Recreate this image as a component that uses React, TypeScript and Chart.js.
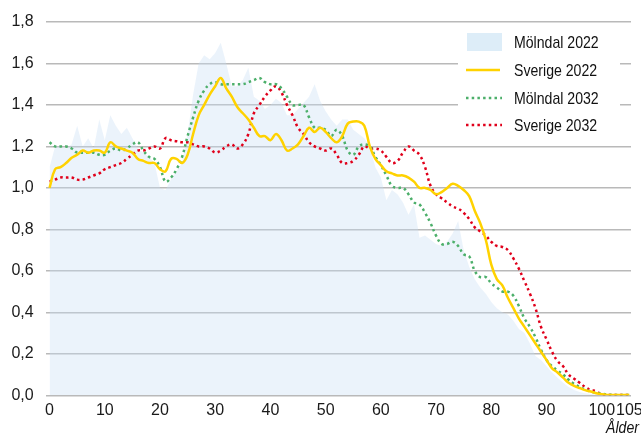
import React, { useEffect, useRef } from 'react';
import { Chart, registerables } from 'chart.js';

Chart.register(...registerables);

const ages = [
  0, 1, 2, 3, 4, 5, 6, 7, 8, 9, 10, 11, 12, 13, 14, 15, 16, 17, 18, 19,
  20, 21, 22, 23, 24, 25, 26, 27, 28, 29, 30, 31, 32, 33, 34, 35, 36, 37, 38, 39,
  40, 41, 42, 43, 44, 45, 46, 47, 48, 49, 50, 51, 52, 53, 54, 55, 56, 57, 58, 59,
  60, 61, 62, 63, 64, 65, 66, 67, 68, 69, 70, 71, 72, 73, 74, 75, 76, 77, 78, 79,
  80, 81, 82, 83, 84, 85, 86, 87, 88, 89, 90, 91, 92, 93, 94, 95, 96, 97, 98, 99,
  100, 101, 102, 103, 104, 105,
];

const molndal2022 = [
  1.10, 1.20, 1.20, 1.19, 1.21, 1.30, 1.20, 1.24, 1.19, 1.33,
  1.23, 1.35, 1.30, 1.26, 1.29, 1.24, 1.19, 1.17, 1.15, 1.12,
  1.00, 0.99, 1.04, 1.08, 1.12, 1.26, 1.45, 1.60, 1.64, 1.62,
  1.65, 1.70, 1.60, 1.49, 1.49, 1.52, 1.58, 1.44, 1.42, 1.38,
  1.40, 1.43, 1.41, 1.35, 1.35, 1.38, 1.41, 1.44, 1.50, 1.42,
  1.37, 1.33, 1.30, 1.33, 1.33, 1.28, 1.26, 1.24, 1.20, 1.10,
  1.05, 0.94, 0.99, 0.97, 0.93, 0.87, 0.92, 0.76, 0.77, 0.75,
  0.73, 0.72, 0.74, 0.78, 0.84, 0.70, 0.62, 0.56, 0.52, 0.49,
  0.45, 0.42, 0.40, 0.39, 0.36, 0.32, 0.30, 0.25, 0.19, 0.17,
  0.14, 0.11, 0.085, 0.06, 0.04, 0.025, 0.016, 0.01, 0.006, 0.004,
  0.003, 0.002, 0.001, 0.001, 0.001, 0.001,
];

const sverige2022 = [
  1.00, 1.09, 1.10, 1.12, 1.145, 1.16, 1.18, 1.17, 1.18, 1.18,
  1.17, 1.22, 1.20, 1.19, 1.18, 1.17, 1.14, 1.13, 1.12, 1.12,
  1.09, 1.08, 1.14, 1.14, 1.12, 1.16, 1.26, 1.35, 1.40, 1.45,
  1.49, 1.53, 1.48, 1.44, 1.39, 1.36, 1.33, 1.29, 1.25, 1.25,
  1.23, 1.26, 1.23, 1.18, 1.19, 1.21, 1.25, 1.29, 1.27, 1.29,
  1.27, 1.24, 1.22, 1.25, 1.31, 1.32, 1.32, 1.30, 1.20, 1.14,
  1.11, 1.08, 1.07, 1.06, 1.06, 1.05, 1.03, 1.00, 1.00, 0.99,
  0.97, 0.98, 1.00, 1.02, 1.01, 0.99, 0.96, 0.89, 0.83, 0.75,
  0.63, 0.56, 0.53, 0.47, 0.42, 0.37, 0.33, 0.29, 0.25, 0.21,
  0.17, 0.13, 0.11, 0.085, 0.06, 0.045, 0.035, 0.025, 0.018, 0.01,
  0.005, 0.002, 0.001, 0.001, 0.001, 0.001,
];

const molndal2032 = [
  1.22, 1.20, 1.20, 1.20, 1.19, 1.17, 1.17, 1.17, 1.17, 1.16,
  1.16, 1.18, 1.19, 1.18, 1.19, 1.21, 1.22, 1.18, 1.15, 1.14,
  1.10, 1.03, 1.05, 1.09, 1.15, 1.25, 1.34, 1.42, 1.47, 1.50,
  1.51, 1.50, 1.50, 1.50, 1.50, 1.50, 1.51, 1.52, 1.53, 1.51,
  1.50, 1.50, 1.48, 1.44, 1.40, 1.40, 1.40, 1.34, 1.29, 1.29,
  1.28, 1.25, 1.28, 1.25, 1.18, 1.16, 1.20, 1.21, 1.20, 1.15,
  1.11, 1.06, 1.01, 1.00, 1.00, 0.97, 0.93, 0.92, 0.88, 0.83,
  0.77, 0.73, 0.73, 0.74, 0.72, 0.68, 0.67, 0.60, 0.57, 0.57,
  0.54, 0.52, 0.50, 0.50, 0.48, 0.43, 0.37, 0.33, 0.28, 0.22,
  0.17, 0.14, 0.12, 0.10, 0.075, 0.055, 0.04, 0.028, 0.018, 0.012,
  0.008, 0.004, 0.002, 0.002, 0.002, 0.002,
];

const sverige2032 = [
  1.03, 1.04, 1.05, 1.05, 1.05, 1.04, 1.04, 1.05, 1.06, 1.07,
  1.09, 1.10, 1.11, 1.12, 1.14, 1.16, 1.18, 1.18, 1.19, 1.20,
  1.19, 1.24, 1.23, 1.225, 1.22, 1.22, 1.21, 1.20, 1.20, 1.19,
  1.17, 1.18, 1.20, 1.21, 1.19, 1.21, 1.26, 1.36, 1.40, 1.44,
  1.47, 1.49, 1.46, 1.40, 1.35, 1.29, 1.26, 1.22, 1.20, 1.19,
  1.18, 1.19, 1.16, 1.12, 1.12, 1.13, 1.16, 1.20, 1.19, 1.19,
  1.18, 1.15, 1.12, 1.13, 1.17, 1.20, 1.18, 1.16, 1.10, 1.01,
  0.97, 0.95, 0.93, 0.91, 0.90, 0.88, 0.85, 0.81, 0.79, 0.77,
  0.74, 0.72, 0.715, 0.70, 0.66, 0.61, 0.55, 0.49, 0.42, 0.33,
  0.27, 0.21, 0.165, 0.14, 0.10, 0.08, 0.06, 0.04, 0.025, 0.02,
  0.003, 0.002, 0.002, 0.002, 0.002, 0.002,
];

const xTickValues = [0, 10, 20, 30, 40, 50, 60, 70, 80, 90, 100, 105];
const seriesNames = ['Mölndal 2022', 'Sverige 2022', 'Mölndal 2032', 'Sverige 2032'];
const xTitle = 'Ålder';

const FONT = "'Liberation Sans', Arial, sans-serif";
const NARROW = 0.83;
const AREA = 'rgba(200,222,244,0.36)';
const AREA_SWATCH = '#ddedf8';
const YELLOW = '#ffd200';
const GREEN = '#4caf6a';
const RED = '#e0001b';

const toXY = (vals: number[]) => ages.map((a, i) => ({ x: a, y: vals[i] }));

const narrowText = (ctx: CanvasRenderingContext2D, t: string, x: number, y: number) => {
  ctx.save();
  ctx.translate(x, y);
  ctx.scale(NARROW, 1);
  ctx.fillText(t, 0, 0);
  ctx.restore();
};

const legendPlugin = {
  id: 'customLegend',
  afterDraw(chart: any) {
    const ctx = chart.ctx as CanvasRenderingContext2D;
    ctx.save();
    ctx.fillStyle = '#ffffff';
    ctx.fillRect(458, 27, 162, 113);
    const rows = [42, 70, 98, 125];
    const textX = 514;
    ctx.font = `17px ${FONT}`;
    ctx.textBaseline = 'middle';
    ctx.textAlign = 'left';
    ctx.fillStyle = AREA_SWATCH;
    ctx.fillRect(467, rows[0] - 9, 35, 18);
    ctx.strokeStyle = YELLOW;
    ctx.lineWidth = 2.5;
    ctx.beginPath();
    ctx.moveTo(466, rows[1]);
    ctx.lineTo(500, rows[1]);
    ctx.stroke();
    [[GREEN, rows[2]], [RED, rows[3]]].forEach(([c, y]) => {
      ctx.strokeStyle = c as string;
      ctx.lineWidth = 2.5;
      ctx.setLineDash([2.5, 3.2]);
      ctx.beginPath();
      ctx.moveTo(466, y as number);
      ctx.lineTo(502, y as number);
      ctx.stroke();
    });
    ctx.setLineDash([]);
    ctx.fillStyle = '#111111';
    seriesNames.forEach((n, i) => narrowText(ctx, n, textX, rows[i] + 1));
    ctx.font = `italic 17px ${FONT}`;
    ctx.textBaseline = 'alphabetic';
    narrowText(ctx, xTitle, 606, 433);
    ctx.restore();
  },
};

export default function App() {
  const ref = useRef<HTMLCanvasElement | null>(null);
  useEffect(() => {
    if (!ref.current) return;
    Chart.defaults.font.family = FONT;
    const chart = new Chart(ref.current, {
      type: 'line',
      data: {
        datasets: [
          {
            label: seriesNames[1],
            data: toXY(sverige2022),
            borderColor: YELLOW,
            borderWidth: 2.5,
            pointRadius: 0,
            tension: 0.4,
            fill: false,
            order: 1,
          },
          {
            label: seriesNames[2],
            data: toXY(molndal2032),
            borderColor: GREEN,
            borderWidth: 2.5,
            borderDash: [2.5, 3.2],
            pointRadius: 0,
            tension: 0.4,
            fill: false,
            order: 2,
          },
          {
            label: seriesNames[3],
            data: toXY(sverige2032),
            borderColor: RED,
            borderWidth: 2.5,
            borderDash: [2.5, 3.2],
            pointRadius: 0,
            tension: 0.4,
            fill: false,
            order: 3,
          },
          {
            label: seriesNames[0],
            data: toXY(molndal2022),
            borderWidth: 0,
            borderColor: 'rgba(0,0,0,0)',
            backgroundColor: AREA,
            pointRadius: 0,
            tension: 0,
            fill: 'origin',
            order: 10,
          },
        ],
      },
      options: {
        animation: false,
        responsive: false,
        devicePixelRatio: 1,
        layout: { padding: { left: 0, top: 22, right: 10, bottom: 0 } },
        plugins: { legend: { display: false }, tooltip: { enabled: false } },
        scales: {
          x: {
            type: 'linear',
            min: -0.7,
            max: 105.3,
            grid: { display: false, drawTicks: false },
            border: { display: false },
            afterBuildTicks: (scale: any) => {
              scale.ticks = xTickValues.map((v) => ({ value: v }));
            },
            afterFit: (scale: any) => {
              scale.height = 38.7;
              scale.paddingLeft = 0;
              scale.paddingRight = 0;
            },
            ticks: {
              autoSkip: false,
              maxRotation: 0,
              padding: 6,
              color: '#1a1a1a',
              font: { size: 16, family: FONT },
              callback: (v: any) => String(v),
            },
          },
          y: {
            min: 0,
            max: 1.8,
            grid: { color: '#b9b9b9', lineWidth: 1.5, drawTicks: false },
            border: { display: false },
            afterFit: (scale: any) => {
              scale.width = 45.7;
              scale.paddingTop = 0;
              scale.paddingBottom = 0;
            },
            ticks: {
              stepSize: 0.2,
              padding: 12,
              color: '#1a1a1a',
              font: { size: 16, family: FONT },
              callback: (v: any) => Number(v).toFixed(1).replace('.', ','),
            },
          },
        },
      },
      plugins: [legendPlugin],
    });
    return () => chart.destroy();
  }, []);
  return (
    <div style={{ position: 'absolute', left: 0, top: 0, width: 641, height: 434, background: '#fff' }}>
      <canvas ref={ref} width={641} height={434} />
    </div>
  );
}
